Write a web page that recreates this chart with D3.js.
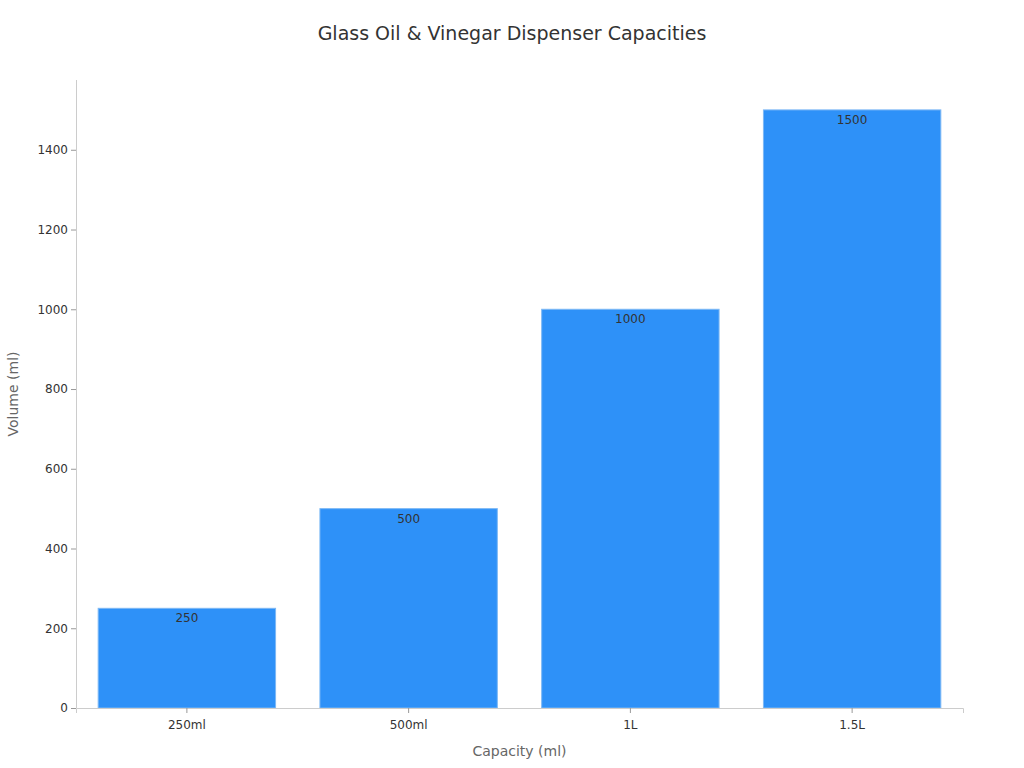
<html>
<head>
<meta charset="utf-8">
<script src="https://cdn.jsdelivr.net/npm/d3@7"></script>
<style>
  body { margin: 0; background: #fff; font-family: "DejaVu Sans", sans-serif; }
</style>
</head>
<body>
<script>
// chart data
var categories = ["250ml", "500ml", "1L", "1.5L"];
var volumes = [250, 500, 1000, 1500];
var yTicks = [0, 200, 400, 600, 800, 1000, 1200, 1400];

var width = 1024, height = 768;
var plotLeft = 76, plotRight = 963, plotTop = 80, plotBottom = 708;

var svg = d3.select("body").append("svg")
    .attr("width", width)
    .attr("height", height);

var x = d3.scaleBand()
    .domain(categories)
    .range([plotLeft, plotRight])
    .paddingInner(0.2)
    .paddingOuter(0.1);

var y = d3.scaleLinear()
    .domain([0, 1575])
    .range([plotBottom, plotTop]);

// title
svg.append("text")
    .attr("x", 512).attr("y", 40)
    .attr("text-anchor", "middle")
    .style("font-size", "19px")
    .style("fill", "#333")
    .text("Glass Oil & Vinegar Dispenser Capacities");

// bars
svg.selectAll("rect.bar")
    .data(volumes)
    .enter().append("rect")
    .attr("class", "bar")
    .attr("x", function(d, i) { return x(categories[i]); })
    .attr("y", function(d) { return y(d); })
    .attr("width", x.bandwidth())
    .attr("height", function(d) { return y(0) - y(d); })
    .style("fill", "#2E91F8")
    .style("stroke", "#7db8f5")
    .style("stroke-width", 1);

// value labels
svg.selectAll("text.val")
    .data(volumes)
    .enter().append("text")
    .attr("class", "val")
    .attr("x", function(d, i) { return x(categories[i]) + x.bandwidth() / 2; })
    .attr("y", function(d) { return y(d) + 14; })
    .attr("text-anchor", "middle")
    .style("font-size", "12px")
    .style("fill", "#333")
    .text(function(d) { return d; });

// axes
var xAxis = svg.append("g")
    .attr("transform", "translate(0," + plotBottom + ")")
    .call(d3.axisBottom(x).tickSizeOuter(0).tickSize(5));
var yAxis = svg.append("g")
    .attr("transform", "translate(" + plotLeft + ",0)")
    .call(d3.axisLeft(y).tickValues(yTicks).tickFormat(d3.format("d")).tickSizeOuter(0).tickSize(5));

[xAxis, yAxis].forEach(function(g) {
  g.select(".domain").style("stroke", "#ccc");
  g.selectAll(".tick line").style("stroke", "#999");
  g.selectAll(".tick text").style("font-size", "12px").style("fill", "#333")
    .style("font-family", "DejaVu Sans, sans-serif");
});
xAxis.selectAll(".tick text").attr("dy", "1.1em");
yAxis.select(".domain").attr("d", "M0.5," + plotTop + "V" + plotBottom);

// axis titles
svg.append("text")
    .attr("x", (plotLeft + plotRight) / 2).attr("y", 756)
    .attr("text-anchor", "middle")
    .style("font-size", "14px").style("fill", "#666")
    .text("Capacity (ml)");
svg.append("text")
    .attr("transform", "translate(18," + (plotTop + plotBottom) / 2 + ") rotate(-90)")
    .attr("text-anchor", "middle")
    .style("font-size", "14px").style("fill", "#666")
    .text("Volume (ml)");
</script>
</body>
</html>
